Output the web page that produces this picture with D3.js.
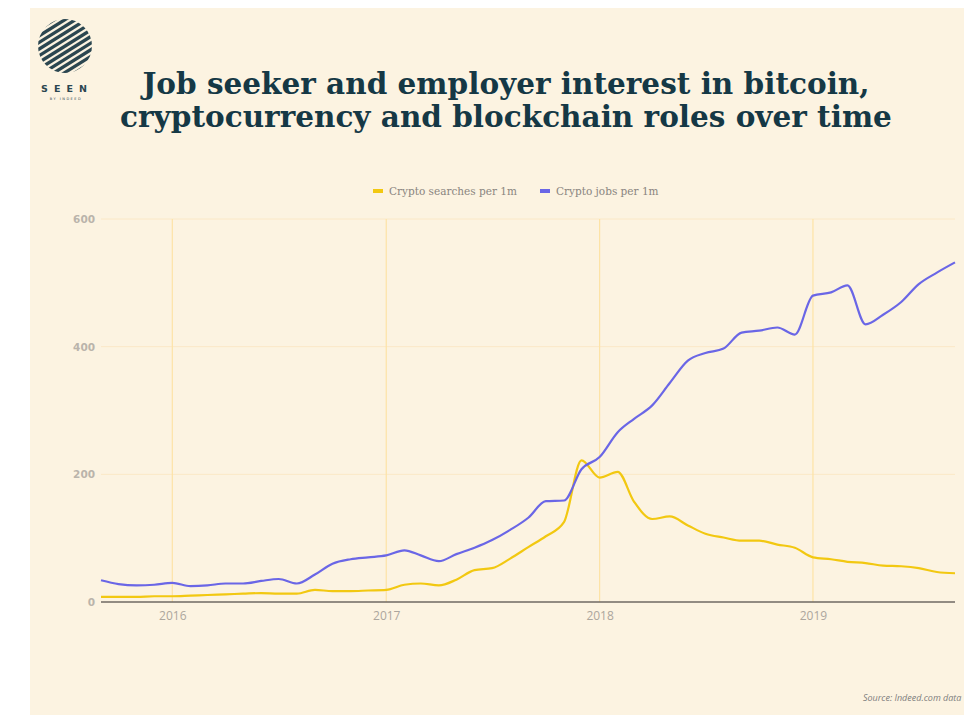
<!DOCTYPE html>
<html>
<head>
<meta charset="utf-8">
<script src="https://cdn.jsdelivr.net/npm/d3@7"></script>
<style>
  html, body { margin: 0; padding: 0; background: #ffffff; }
  svg { display: block; }
</style>
</head>
<body>
<div id="chart"></div>
<script>
// monthly readings, Sep 2015 .. Sep 2019
var startMonth = "2015-09-01";
var endMonth = "2019-09-01";
var searches = [8, 8, 8, 9, 9, 10, 11, 12, 13, 14, 13, 13,
                19, 17, 17, 18, 19, 27, 29, 26, 35, 50, 53, 68,
                86, 103, 125, 222, 195, 204, 157, 130, 134, 120, 107, 101,
                96, 96, 90, 85, 70, 67, 63, 61, 57, 56, 53, 47, 45];
var jobs = [34, 28, 26, 27, 30, 25, 26, 29, 29, 33, 36, 29,
            43, 60, 67, 70, 73, 81, 73, 64, 75, 85, 97, 113,
            132, 158, 159, 208, 227, 266, 287, 308, 343, 378, 390, 397,
            422, 425, 430, 419, 480, 485, 496, 435, 450, 470, 498, 516, 532];
var seriesNames = ["Crypto searches per 1m", "Crypto jobs per 1m"];
var seriesColors = ["#f2c811", "#6a66e6"];
var yTicks = [0, 200, 400, 600];
var yearTicks = ["2016", "2017", "2018", "2019"];

var W = 964, H = 715;
var parse = d3.timeParse("%Y-%m-%d");
var months = d3.timeMonth.range(parse(startMonth), d3.timeMonth.offset(parse(endMonth), 1));

var svg = d3.select("#chart").append("svg")
    .attr("width", W).attr("height", H);

// panel
svg.append("rect")
    .attr("x", 30).attr("y", 8)
    .attr("width", W - 30).attr("height", H - 8)
    .attr("fill", "#fcf3e1");

// logo
var logo = svg.append("g");
logo.append("clipPath").attr("id", "logoclip")
  .append("circle").attr("cx", 65).attr("cy", 46).attr("r", 27);
var stripes = logo.append("g").attr("clip-path", "url(#logoclip)")
  .append("g").attr("transform", "translate(65,46) rotate(-32)");
d3.range(-5, 6).forEach(function(k) {
  stripes.append("rect")
    .attr("x", -40).attr("y", k * 5.6 - 1.6)
    .attr("width", 80).attr("height", 3.3)
    .attr("fill", "#2b4650");
});
logo.append("text")
    .attr("x", 67).attr("y", 92)
    .attr("text-anchor", "middle")
    .attr("font-family", "DejaVu Sans, sans-serif")
    .attr("font-weight", "bold")
    .attr("font-size", 9.5)
    .attr("letter-spacing", "6px")
    .attr("fill", "#2b4650")
    .text("SEEN");
logo.append("text")
    .attr("x", 66).attr("y", 100)
    .attr("text-anchor", "middle")
    .attr("font-family", "DejaVu Sans, sans-serif")
    .attr("font-size", 3.5)
    .attr("letter-spacing", "1.5px")
    .attr("fill", "#2b4650")
    .text("BY INDEED");

// title
var title = svg.append("g")
    .attr("font-family", "DejaVu Serif, Georgia, serif")
    .attr("font-weight", "bold")
    .attr("fill", "#153845")
    .attr("text-anchor", "middle");
title.append("text").attr("x", 506).attr("y", 94).attr("font-size", 29.5)
    .text("Job seeker and employer interest in bitcoin,");
title.append("text").attr("x", 506).attr("y", 127).attr("font-size", 29.5)
    .text("cryptocurrency and blockchain roles over time");

// legend
var legend = svg.append("g")
    .attr("font-family", "DejaVu Serif, Georgia, serif")
    .attr("font-size", 10.5)
    .attr("fill", "#8a8580");
var legX = [373, 540];
seriesNames.forEach(function(name, i) {
  legend.append("rect")
    .attr("x", legX[i]).attr("y", 189)
    .attr("width", 10).attr("height", 4)
    .attr("fill", seriesColors[i]);
  legend.append("text")
    .attr("x", legX[i] + 16).attr("y", 195)
    .text(name);
});

// scales
var x = d3.scaleTime()
    .domain([parse(startMonth), parse(endMonth)])
    .range([101, 955]);
var y = d3.scaleLinear()
    .domain([0, 600])
    .range([602, 219]);

// grid
svg.append("g").selectAll("line")
    .data(yTicks.filter(function(d) { return d > 0; }))
    .enter().append("line")
    .attr("x1", 101).attr("x2", 955)
    .attr("y1", function(d) { return y(d); })
    .attr("y2", function(d) { return y(d); })
    .attr("stroke", "#fbe8c6").attr("stroke-width", 1);

svg.append("g").selectAll("line")
    .data(yearTicks)
    .enter().append("line")
    .attr("x1", function(d) { return x(parse(d + "-01-01")); })
    .attr("x2", function(d) { return x(parse(d + "-01-01")); })
    .attr("y1", y(600)).attr("y2", y(0))
    .attr("stroke", "#fde3a6").attr("stroke-width", 1.2);

// y labels
svg.append("g")
    .attr("transform", "translate(101,0)")
    .call(d3.axisLeft(y).tickValues(yTicks).tickSize(0).tickPadding(6))
    .call(function(g) { g.select(".domain").remove(); })
    .selectAll("text")
    .attr("font-family", "DejaVu Sans, sans-serif")
    .attr("font-weight", "bold")
    .attr("font-size", 10.5)
    .attr("fill", "#bab4ab");

// x labels
svg.append("g")
    .attr("transform", "translate(0," + y(0) + ")")
    .call(d3.axisBottom(x)
        .tickValues(yearTicks.map(function(d) { return parse(d + "-01-01"); }))
        .tickFormat(d3.timeFormat("%Y"))
        .tickSize(0).tickPadding(9))
    .call(function(g) { g.select(".domain").remove(); })
    .selectAll("text")
    .attr("font-family", "Open Sans, sans-serif")
    .attr("font-size", 12)
    .attr("fill", "#aca69d");

// lines
var line = d3.line()
    .x(function(d, i) { return x(months[i]); })
    .y(function(d) { return y(d); })
    .curve(d3.curveMonotoneX);

[searches, jobs].forEach(function(s, i) {
  svg.append("path")
    .datum(s)
    .attr("fill", "none")
    .attr("stroke", seriesColors[i])
    .attr("stroke-width", 2.2)
    .attr("stroke-linejoin", "round")
    .attr("d", line);
});

// zero line
svg.append("line")
    .attr("x1", 101).attr("x2", 955)
    .attr("y1", y(0)).attr("y2", y(0))
    .attr("stroke", "#6f6862").attr("stroke-width", 1.5);

// source
svg.append("text")
    .attr("x", 863).attr("y", 701)
    .attr("font-family", "Open Sans, sans-serif")
    .attr("font-style", "italic")
    .attr("font-size", 9)
    .attr("fill", "#7d7d7d")
    .text("Source: Indeed.com data");
</script>
</body>
</html>
